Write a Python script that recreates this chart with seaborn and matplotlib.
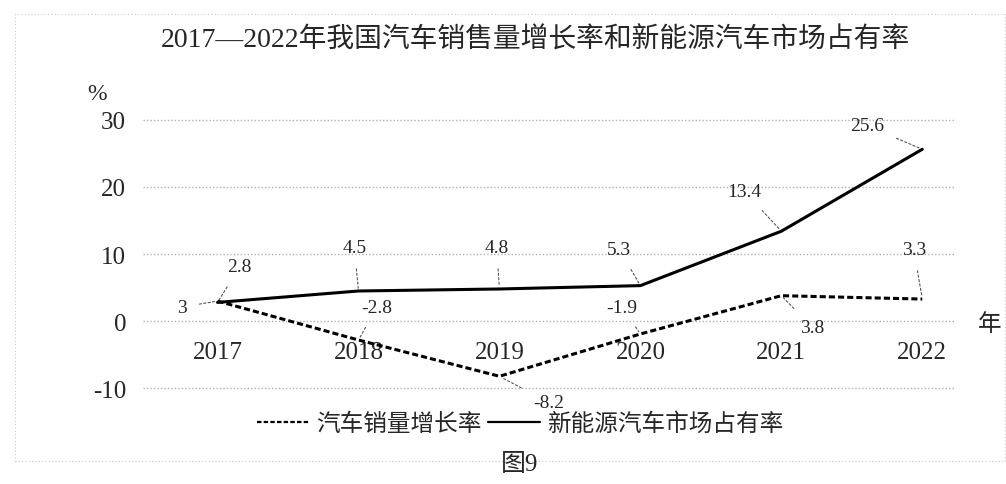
import matplotlib
matplotlib.use("Agg")
import matplotlib.pyplot as plt
import seaborn as sns
import pandas as pd
from matplotlib.patches import Rectangle

years = [2017, 2018, 2019, 2020, 2021, 2022]
sales_growth = [3, -2.8, -8.2, -1.9, 3.8, 3.3]
nev_share = [2.8, 4.5, 4.8, 5.3, 13.4, 25.6]
s_sales = "汽车销量增长率"
s_nev = "新能源汽车市场占有率"
y_ticks = [-10, 0, 10, 20, 30]
title = "2017—2022年我国汽车销售量增长率和新能源汽车市场占有率"

df = pd.DataFrame({
    "year": years * 2,
    "value": sales_growth + nev_share,
    "series": [s_sales] * len(years) + [s_nev] * len(years),
})

sns.set_theme(style="white")
fam = ["Liberation Serif", "Noto Sans CJK SC", "DejaVu Sans"]
plt.rcParams["font.family"] = fam
plt.rcParams["axes.unicode_minus"] = False

fig = plt.figure(figsize=(10.06, 4.85), dpi=100)
ax = fig.add_axes([0.142, 0.175, 0.807, 0.619])

sns.lineplot(data=df, x="year", y="value", style="series", hue="series",
             palette={s_sales: "black", s_nev: "black"},
             dashes={s_sales: (2, 1), s_nev: ""},
             style_order=[s_sales, s_nev], hue_order=[s_sales, s_nev],
             linewidth=2.2, ax=ax, legend=True)

ax.spines["bottom"].set_position(("data", 0))
for s in ax.spines.values():
    s.set_visible(False)
ax.set_xlim(2017 - 0.53, 2022 + 0.23)
ax.set_ylim(-11.6, 33.1)
ax.set_yticks(y_ticks)
ax.set_yticklabels([str(t) for t in y_ticks])
ax.set_xticks(years)
ax.set_xticklabels([str(y) for y in years])
ax.tick_params(axis="y", length=0, pad=12, labelsize=18)
ax.tick_params(axis="x", length=0, pad=14, labelsize=18)
ax.set_xlabel("")
ax.set_ylabel("")
for t in y_ticks:
    ax.axhline(t, color="#b0b0b0", lw=1.0, ls=(0, (1, 1.5)), zorder=0)

# value labels with leader lines
lab_style = dict(fontsize=14, ha="center", va="center", annotation_clip=False,
                 arrowprops=dict(arrowstyle="-", ls=(0, (2, 2)), lw=0.8,
                                 color="#555555", shrinkA=7, shrinkB=2))
nev_pos = [(0.156, 8.1), (0.97, 11.0), (1.98, 11.0), (2.85, 10.7), (3.74, 19.3), (4.61, 29.1)]
sales_pos = [(-0.255, 2.1), (1.13, 2.1), (2.35, -12.1), (2.87, 2.1), (4.22, -0.9), (4.94, 10.7)]
for yr, v, (dx, dy) in zip(years, nev_share, nev_pos):
    ax.annotate(f"{v:g}", xy=(yr, v), xytext=(2017 + dx, dy), **lab_style)
for yr, v, (dx, dy) in zip(years, sales_growth, sales_pos):
    ax.annotate(f"{v:g}", xy=(yr, v), xytext=(2017 + dx, dy), **lab_style)

# legend
handles, labels = ax.get_legend_handles_labels()
for h in handles:
    h.set_linewidth(1.6)
ax.legend(handles, labels, loc="center", bbox_to_anchor=(520 / 1006, 1 - 425 / 485),
          bbox_transform=fig.transFigure, ncol=2, frameon=False,
          handlelength=2.2, handletextpad=0.3, columnspacing=0.3,
          prop={"family": fam, "size": 17})

fig.text(535 / 1006, 1 - 40 / 485, title, fontsize=20, ha="center", va="center")
fig.text(97 / 1006, 1 - 95 / 485, "%", fontsize=17, ha="center", va="center")
fig.text(990 / 1006, 1 - 325 / 485, "年", fontsize=17, ha="center", va="center")
fig.text(520 / 1006, 1 - 465 / 485, "图9", fontsize=18, ha="center", va="center")

fig.patches.append(Rectangle((15 / 1006, 1 - 462 / 485), 990 / 1006, 447 / 485,
                             transform=fig.transFigure, fill=False,
                             ec="#c8c8c8", lw=0.8, ls=(0, (1, 2))))

fig.savefig("out.png", dpi=100)
